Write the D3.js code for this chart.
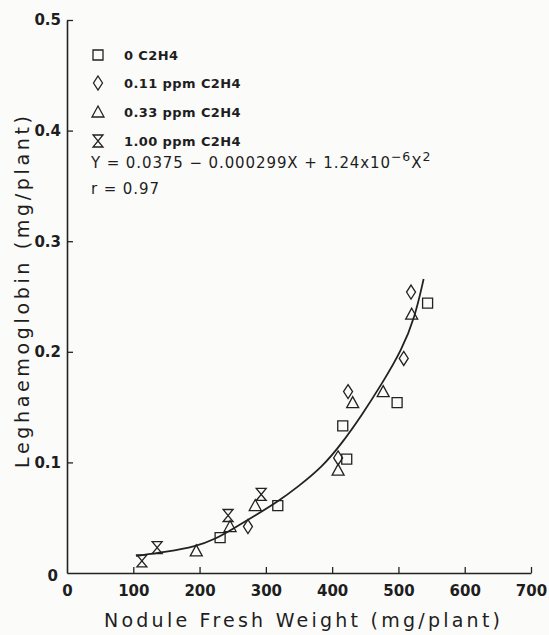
<!DOCTYPE html>
<html>
<head>
<meta charset="utf-8">
<script src="https://cdn.jsdelivr.net/npm/d3@7"></script>
<style>
  body { margin: 0; background: #fbfbfa; }
  svg text { font-family: "DejaVu Sans", sans-serif; fill: #1e1e1e; }
</style>
</head>
<body>
<svg id="chart" width="549" height="635"></svg>
<script>
// values (x = nodule fresh weight mg/plant, y = leghaemoglobin mg/plant)
var sq_pts = [[231, 0.032], [318, 0.061], [416, 0.133], [422, 0.103], [498, 0.154], [544, 0.244]]
var diamond_pts = [[273, 0.042], [409, 0.104], [424, 0.164], [508, 0.194], [519, 0.254]]
var tri_pts = [[195, 0.020], [246, 0.042], [284, 0.061], [409, 0.093], [431, 0.154], [477, 0.164], [520, 0.234]]
var hour_pts = [[113, 0.011], [136, 0.023], [243, 0.052], [293, 0.071]]

// fitted curve as drawn
var fit_curve = [[104, 0.0154], [150, 0.0190], [195, 0.0240], [223, 0.0305], [249, 0.0395], [284, 0.0520], [318, 0.0645],
  [348, 0.0778], [385, 0.0958], [415, 0.1175], [445, 0.1430], [475, 0.1710], [505, 0.2016], [525, 0.2315], [538, 0.2658]]

var x_ticks = [0, 100, 200, 300, 400, 500, 600, 700]
var y_ticks = [0, 0.1, 0.2, 0.3, 0.4, 0.5]
var legend_labels = ["0 C2H4", "0.11 ppm C2H4", "0.33 ppm C2H4", "1.00 ppm C2H4"]

var svg = d3.select("#chart")
var ink = "#222"

var x = d3.scaleLinear().domain([0, 700]).range([67, 531])
var y = d3.scaleLinear().domain([0, 0.5]).range([573, 20])

// marker shapes
function marker_path(kind) {
  if (kind == "square") return "M-5,-5H5V5H-5Z"
  if (kind == "diamond") return "M0,-7L4.5,0L0,7L-4.5,0Z"
  if (kind == "triangle") return "M0,-6L6,5H-6Z"
  return "M-5,-6H5L-5,6H5Z" // hourglass
}
var series = [
  {kind: "square", pts: sq_pts},
  {kind: "diamond", pts: diamond_pts},
  {kind: "triangle", pts: tri_pts},
  {kind: "hour", pts: hour_pts}
]

// axes
var xAxis = d3.axisBottom(x).tickValues(x_ticks).tickSizeInner(-6).tickSizeOuter(0).tickFormat(d3.format("d"))
var gx = svg.append("g").attr("transform", "translate(0," + y(0) + ")").call(xAxis)
gx.select(".domain").attr("stroke", ink).attr("stroke-width", 1.6)
gx.selectAll(".tick line").attr("stroke", ink).attr("stroke-width", 1.3)
gx.selectAll(".tick").filter(function(d) { return d == 0 }).select("line").remove()
gx.selectAll(".tick text").attr("y", 12).attr("font-size", 15).attr("font-weight", "bold").style("fill", "#1e1e1e")

var yAxis = d3.axisLeft(y).tickValues(y_ticks).tickSizeInner(-6).tickSizeOuter(0)
  .tickFormat(function(d) { return d == 0 ? "0" : d3.format(".1f")(d) })
var gy = svg.append("g").attr("transform", "translate(" + x(0) + ",0)").call(yAxis)
gy.select(".domain").attr("stroke", ink).attr("stroke-width", 1.6)
gy.selectAll(".tick line").attr("stroke", ink).attr("stroke-width", 1.3)
gy.selectAll(".tick").filter(function(d) { return d == 0 }).select("line").remove()
gy.selectAll(".tick text").attr("x", -6).attr("font-size", 15).attr("font-weight", "bold").style("fill", "#1e1e1e")
gy.selectAll(".tick").filter(function(d) { return d == 0 }).select("text").attr("x", -9).attr("dy", "0.5em")

// axis titles
svg.append("text").attr("x", 302).attr("y", 627).attr("text-anchor", "middle")
  .attr("font-size", 19).attr("textLength", 396).attr("lengthAdjust", "spacing")
  .text("Nodule Fresh Weight (mg/plant)")
svg.append("text").attr("transform", "translate(29,292) rotate(-90)").attr("text-anchor", "middle")
  .attr("font-size", 19).attr("textLength", 352).attr("lengthAdjust", "spacing")
  .text("Leghaemoglobin (mg/plant)")

// fitted curve
var line = d3.line().x(function(d) { return x(d[0]) }).y(function(d) { return y(d[1]) }).curve(d3.curveBasis)
svg.append("path").datum(fit_curve).attr("d", line).attr("fill", "none").attr("stroke", ink).attr("stroke-width", 1.8)

// points
series.forEach(function(s) {
  svg.append("g").selectAll("path").data(s.pts).enter().append("path")
    .attr("d", marker_path(s.kind))
    .attr("transform", function(d) { return "translate(" + x(d[0]) + "," + y(d[1]) + ")" })
    .attr("fill", "none").attr("stroke", ink).attr("stroke-width", 1.3)
})

// legend
var legend_y = [55, 83, 112, 141]
series.forEach(function(s, i) {
  svg.append("path").attr("d", marker_path(s.kind)).attr("transform", "translate(98," + legend_y[i] + ")")
    .attr("fill", "none").attr("stroke", ink).attr("stroke-width", 1.3)
  svg.append("text").attr("x", 124).attr("y", legend_y[i]).attr("dy", "0.36em")
    .attr("font-size", 13).attr("font-weight", 600).attr("letter-spacing", 0.4).text(legend_labels[i])
})

var eq = svg.append("text").attr("x", 91).attr("y", 168).attr("font-size", 15).attr("letter-spacing", 0.9)
eq.append("tspan").text("Y = 0.0375 \u2212 0.000299X + 1.24x10")
eq.append("tspan").attr("dy", -7).attr("font-size", 12.5).text("\u22126")
eq.append("tspan").attr("dy", 7).text("X")
eq.append("tspan").attr("dy", -7).attr("font-size", 12.5).text("2")
svg.append("text").attr("x", 91).attr("y", 194).attr("font-size", 15).attr("letter-spacing", 0.9).text("r = 0.97")
</script>
</body>
</html>
